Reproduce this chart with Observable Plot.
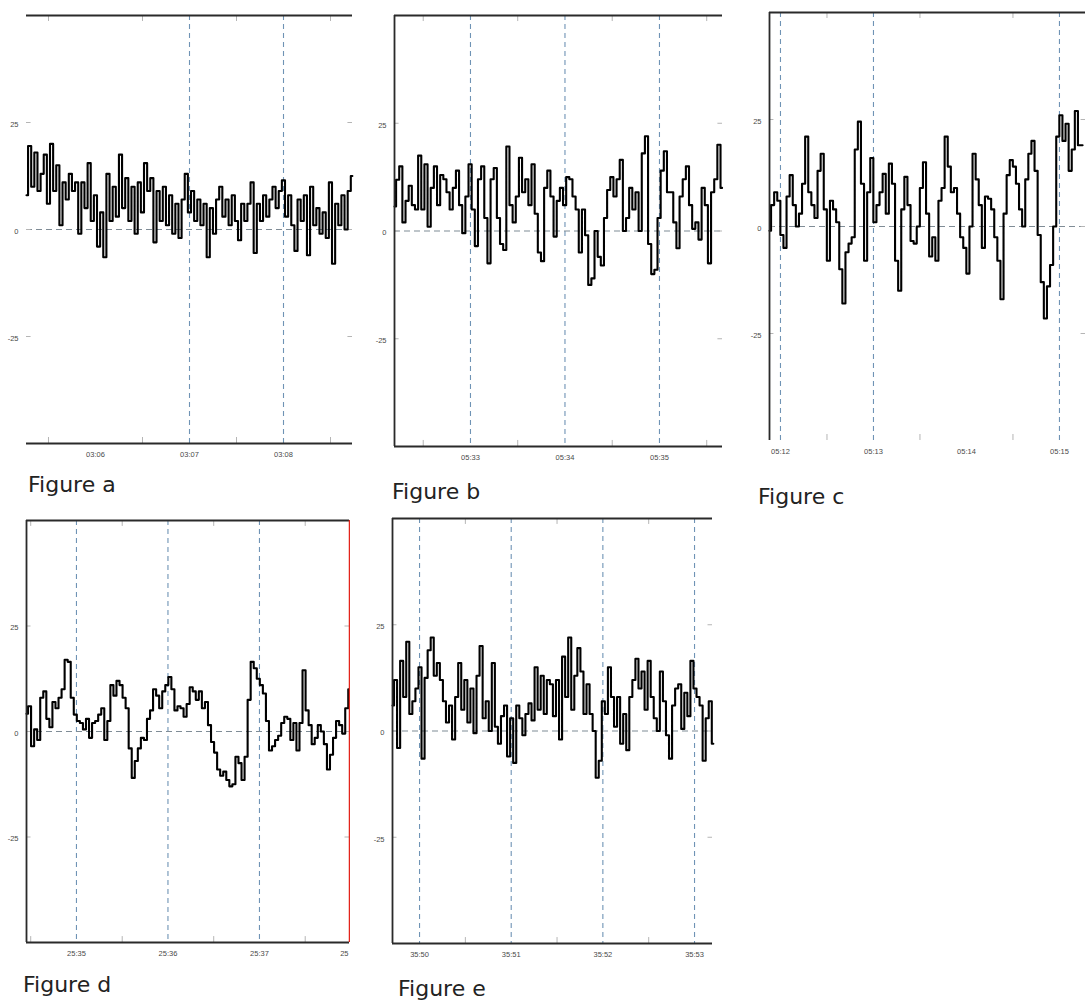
<!DOCTYPE html>
<html><head><meta charset="utf-8">
<script src="https://cdn.jsdelivr.net/npm/d3@7"></script>
<script src="https://cdn.jsdelivr.net/npm/@observablehq/plot@0.6"></script>
<style>
html,body{margin:0;padding:0;background:#fff;overflow:hidden}
#root{position:relative;width:1085px;height:1002px;background:#fff}
.panel{position:absolute;overflow:hidden}
.cap{position:absolute;font-family:"DejaVu Sans";font-size:22px;line-height:22px;color:#222;white-space:nowrap}
</style></head><body><div id="root"></div>
<script>
// ---- data (x in "mm:ss"-style units, one unit per labelled tick) ----
const sampleStep = 2 / 60;
const yTicks = [25, 0, -25];

const aStart = 185.266;
const aValues = [8,19.5,10,18,9,13,17.5,6,20,9,15,1,11,7,13,9,11,-1,11,5,15.5,2,8,-4,4,-6.5,13,2,10,3,17.5,5,12,2,10,-1,11,4,15.5,9,12,-3,9,2,10,1,8,-1,6,-2,7,13,4,9,2,7,1,6,-6.5,5,-1,7,10,3,7,1,8,2,-2.5,6,2,6,11,-5.5,6,2,8,3,7,10,5,9,11.5,3,8,1,-5,7,2,8,-6,10,1,5,-1,4,-2,11,-8,6,1,8,0,9,12.5];
const aLabels = [186, 187, 188];
const aGrid = [187, 188];
const aMinor = [185.5, 186.5, 187.5, 188.5];

const bStart = 332.196;
const bValues = [5.7,11.9,15,2,7,10.5,6,5,17.5,5,15.5,1,10,15,6,13,12,9,5,10,14,6,-0.5,8,15.5,5,-3.5,12,15,3,-7.5,12,14.6,3,-3,-4.4,19.6,6,2,8,17,9,12,6,15.5,4,-5,-7,10,14,8,-1.3,7,10,6,12.5,12,8,5,-5,5,-1,-12.5,-11,0,-6,-8,3,9.5,12.5,8,12,16.5,0,3,10,5,9,0,18,22,-3,-10,-9,3,14,18.5,9,9,2,-4,8,12,15,6,0.5,2,-2,10,6,-7.5,9,12,20,10];
const bLabels = [333, 334, 335];
const bGrid = [333, 334, 335];
const bMinor = [332.5, 333.5, 334.5, 335.5];

const cStart = 311.882;
const cValues = [-1,5,8,6,-2,-5,7,12,5,0,3,10,21,8,5,2,13,17,4,-8,6,4,1,-10,-18,-6,-4,-2.5,18,24.5,10,-8,8,16,1,5,8,12.3,3,14.7,10,-8,-15,4,11.6,5,-3.4,-4,0,9,15,3,-7,-2.5,-8,6,9,21,14,8,9,3,-2.5,-5,-11,0,17,11,5,-5,7,6.5,4,-2.5,-8,-17,3,12,15.5,14,10,4,0,11,17,20,13,-2,-13,-21.5,-14,-9,0,21,26,20,24,13,18,27,19,19];
const cLabels = [312, 313, 314, 315];
const cGrid = [312, 313, 315];
const cMinor = [312.5, 313.5, 314.5];

const dStart = 1534.454;
const dValues = [4.2,6,-3.5,0.5,-2,8,9.5,3,1,7,5.5,8,10,17,16.5,8,4,2.5,2,0.5,3,-1.5,2,2.5,4,5.5,-2,2.5,11,8.5,12,11,8,5.5,-4,-11,-7,-4,-1.5,-2,3,5,10,8.5,5.5,9.5,11,12.9,10,5,6,5.5,3.5,6.5,10.5,9.5,7.5,9.5,5.5,7,1.5,-2.5,-5,-9,-10.5,-9.5,-11.5,-13,-12.5,-6,-7.5,-11.5,-6,7.5,16.5,15,12.5,11,9,2.5,-4.5,-3.5,-2,-1,2,3.5,3,-2,2,-4.5,2,14.5,5,1.5,-3,-1.5,1.5,0,-3,-9,-5.5,-1.5,2.5,1.5,-0.5,5.5,10];
const dLabels = [1535, 1536, 1537];
const dEdgeLabel = "25";
const dGrid = [1535, 1536, 1537];
const dMinor = [1534.5, 1535.5, 1536.5, 1537.5];

const eStart = 2149.705;
const eValues = [6,12,-4,16.5,8,21,4,7,10,15,-6.5,12.5,19,22,13,16,12,7,2,6,-2,8,16,5,12,2,10,-0.5,13,20,3,7,0,16,1,-3,3.5,6,-6,3,-7.5,6,3,-1,4,6.5,2.5,15,5,13,4,12,11,3.5,12,-2,17.5,8,22,5,13,19.5,14,4,11,4,0,-11,-7,7,4,15,8,1,8,-3,4,-4.5,8,12,17,10,14,5,16.5,8,3,0,14,7,-1,-6.5,6,10,11,0.5,9,3.5,16.5,10,8,6,-7,3,7,-3];
const eLabels = [2150, 2151, 2152, 2153];
const eGrid = [2150, 2151, 2152, 2153];
const eMinor = [2150.5, 2151.5, 2152.5];

// ---- layout (page pixel positions of each plot frame) ----
const panels = [
  {name: "Figure a", start: aStart, values: aValues, labels: aLabels, grid: aGrid, minor: aMinor,
   domain: [185.266, 188.734], L: 26, R: 352, T: 15, B: 443, mr: 8,
   frame: {left: false, top: true, bottom: true, right: false}, cap: [28, 474]},
  {name: "Figure b", start: bStart, values: bValues, labels: bLabels, grid: bGrid, minor: bMinor,
   domain: [332.196, 335.667], L: 394, R: 722, T: 15, B: 446, mr: 8,
   frame: {left: true, top: true, bottom: true, right: false}, cap: [392, 481]},
  {name: "Figure c", start: cStart, values: cValues, labels: cLabels, grid: cGrid, minor: cMinor,
   domain: [311.882, 315.28], L: 769, R: 1085, T: 12, B: 440, mr: 0,
   frame: {left: true, top: true, bottom: false, right: false}, cap: [758, 486]},
  {name: "Figure d", start: dStart, values: dValues, labels: dLabels, grid: dGrid, minor: dMinor,
   domain: [1534.454, 1537.984], L: 26, R: 349, T: 520, B: 942, mr: 1,
   frame: {left: true, top: true, bottom: true, right: "red"}, cap: [23, 974], edge: dEdgeLabel},
  {name: "Figure e", start: eStart, values: eValues, labels: eLabels, grid: eGrid, minor: eMinor,
   domain: [2149.705, 2153.196], L: 392, R: 712, T: 518, B: 943, mr: 8,
   frame: {left: true, top: true, bottom: true, right: false}, cap: [398, 978]}
];

const pad2 = n => String(n).padStart(2, "0");
const fmt = m => pad2(Math.floor(m / 60)) + ":" + pad2(Math.round(m % 60));
const ML = 30, MT = 8, MB = 24;
const root = document.getElementById("root");

for (const p of panels) {
  const [x0, x1] = p.domain;
  const span = x1 - x0;
  const data = p.values.map((v, i) => ({t: p.start + i * sampleStep, v}));
  const frameColor = "#2a2a2a";
  const textStyle = {fontSize: 7.5, fontFamily: "Liberation Sans", fill: "#4a4a4a"};
  const marks = [
    Plot.ruleX(p.grid, {stroke: "#6f93b5", strokeDasharray: "5,4", strokeWidth: 1.1}),
    Plot.ruleY([0], {stroke: "#7f8c96", strokeDasharray: "6,4", strokeWidth: 1.1}),
    Plot.ruleX(p.minor, {y1: 50, y2: 48.6, stroke: "#b5b5b5"}),
    Plot.ruleX(p.minor, {y1: -50, y2: -48.6, stroke: "#b5b5b5"}),
    Plot.ruleY(yTicks, {x1: x0, x2: x0 + span * 0.014, stroke: "#b5b5b5"}),
    Plot.ruleY(yTicks, {x1: x1, x2: x1 - span * 0.014, stroke: "#b5b5b5"}),
    Plot.line(data, {x: "t", y: "v", curve: "step", stroke: "#000", strokeWidth: 2.1})
  ];
  if (p.frame.top) marks.push(Plot.ruleY([50], {stroke: frameColor, strokeWidth: 1.8}));
  if (p.frame.bottom) marks.push(Plot.ruleY([-50], {stroke: frameColor, strokeWidth: 1.8}));
  if (p.frame.left) marks.push(Plot.ruleX([x0], {stroke: frameColor, strokeWidth: 1.8}));
  if (p.frame.right) marks.push(Plot.ruleX([x1], {stroke: "#e3241b", strokeWidth: 1.5}));
  marks.push(
    Plot.text(p.labels, {x: d => d, y: -50, dy: 11, text: fmt, textAnchor: "middle", ...textStyle}),
    Plot.text(yTicks, {x: x0, y: d => d, dx: -8, dy: 2, text: d => String(d), textAnchor: "end", ...textStyle})
  );
  if (p.edge) marks.push(Plot.text([p.edge], {x: x1, y: -50, dx: -1, dy: 11, text: d => d, textAnchor: "end", ...textStyle}));
  const W = ML + (p.R - p.L) + p.mr;
  const H = MT + (p.B - p.T) + MB;
  const svg = Plot.plot({
    width: W, height: H,
    marginLeft: ML, marginRight: p.mr, marginTop: MT, marginBottom: MB,
    x: {domain: p.domain, axis: null},
    y: {domain: [-50, 50], axis: null},
    style: "max-width:none;background:transparent;overflow:hidden",
    marks
  });
  const div = document.createElement("div");
  div.className = "panel";
  div.style.left = (p.L - ML) + "px";
  div.style.top = (p.T - MT) + "px";
  div.style.width = W + "px";
  div.style.height = H + "px";
  div.appendChild(svg);
  root.appendChild(div);

  const cap = document.createElement("div");
  cap.className = "cap";
  cap.textContent = p.name;
  cap.style.left = p.cap[0] + "px";
  cap.style.top = p.cap[1] + "px";
  root.appendChild(cap);
}
</script></body></html>
